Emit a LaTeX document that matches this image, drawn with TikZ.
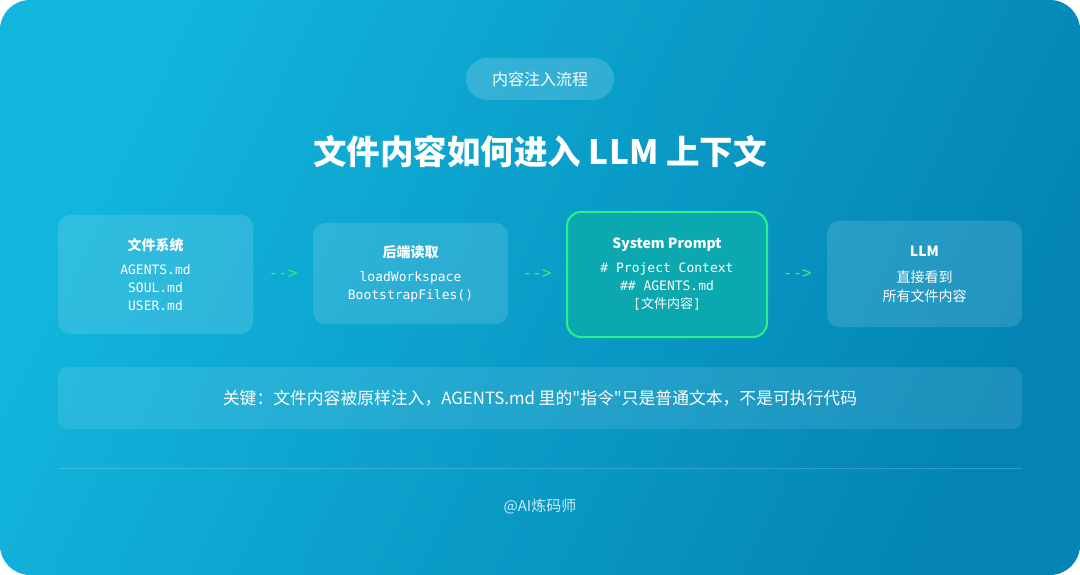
\documentclass[tikz,border=0pt]{standalone}
\usepackage{fontspec}
\setmainfont{Noto Sans CJK SC}
\setmonofont{DejaVu Sans Mono}
\newfontfamily\cjk{Noto Sans CJK SC}
\newfontfamily\rawcjk{Noto Sans CJK SC}[Ligatures=TeXOff]
\usetikzlibrary{positioning,calc}
\definecolor{bgtl}{HTML}{12B6DD}
\definecolor{bgbr}{HTML}{0384B4}
\definecolor{cgreen}{HTML}{2EF08A}
\definecolor{cteal}{HTML}{0BA9AF}
\newcommand{\boxttl}{\rmfamily\bfseries\fontsize{14}{18}\selectfont}
\newcommand{\codefont}{\ttfamily\fontsize{13}{18}\selectfont}
\newcommand{\bodyfont}{\fontsize{14}{19}\selectfont}
\newcommand{\sq}{{\rawcjk"}}
\tikzset{
  card/.style={rounded corners=12pt,fill=white,fill opacity=.13,text opacity=1,text=white,
               align=center,inner sep=0pt,minimum width=195pt,font=\codefont},
  hot/.style={card,fill=cteal,fill opacity=1,draw=cgreen,line width=2pt,rounded corners=14pt,
              minimum width=200pt},
  flow/.style={text=cgreen,font=\ttfamily\fontsize{16}{18}\selectfont},
  pill/.style={rounded corners=21pt,fill=white,fill opacity=.16,text opacity=1,text=white,
               minimum width=148pt,minimum height=42pt,font=\fontsize{16}{18}\selectfont}
}

\begin{document}
\begin{tikzpicture}[x=1pt,y=-1pt]
\useasboundingbox (0,0) rectangle (1080,575);
\fill[white] (0,0) rectangle (1080,575);
\path[rounded corners=30pt,shading=axis,left color=bgtl,right color=bgbr,shading angle=65]
  (0,0) rectangle (1080,575);

\node[pill] (tag) at (540,79) {内容注入流程};
\node[text=white,font=\bfseries\fontsize{33.5}{38}\selectfont] (head) at (540,152)
  {文件内容如何进入 LLM 上下文};

\node[card,minimum height=119pt] (fs) at (155.5,274.5)
  {\boxttl 文件系统\\[6pt]AGENTS.md\\SOUL.md\\USER.md};
\node[card,minimum height=101pt] (rd) at (410.5,273.5)
  {\boxttl 后端读取\\[6pt]loadWorkspace\\BootstrapFiles()};
\node[hot,minimum height=125pt] (sp) at (667,274.5)
  {\boxttl System Prompt\\[6pt]\# Project Context\\\#\# AGENTS.md\\\relax
   [\cjk 文件内容\ttfamily ]};
\node[card,minimum height=106pt,font=\bodyfont] (llm) at (924.5,274)
  {\boxttl LLM\\[7pt]直接看到\\所有文件内容};

\node[flow] (a1) at ($(fs.east)!.5!(rd.west)$) {-{}-{}>};
\node[flow] (a2) at ($(rd.east)!.5!(sp.west)$) {-{}-{}>};
\node[flow] (a3) at ($(sp.east)!.5!(llm.west)$) {-{}-{}>};

\node[card,rounded corners=10pt,fill opacity=.1,minimum width=964pt,minimum height=62pt,
      font=\fontsize{16.8}{18}\selectfont] (note) at (540,398)
  {关键：文件内容被原样注入，AGENTS.md 里的\sq 指令\sq 只是普通文本，不是可执行代码};

\coordinate (rl) at (58,468);
\coordinate (rr) at (1022,468);
\draw[white,opacity=.2,line width=1pt] (rl) -- (rr);
\node[text=white,text opacity=.8,font=\fontsize{15}{18}\selectfont] (sig) at (540,506) {@AI炼码师};
\end{tikzpicture}
\end{document}
